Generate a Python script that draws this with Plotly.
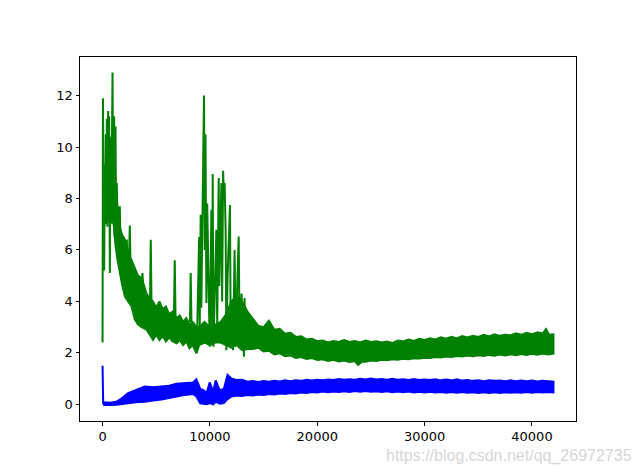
import plotly.graph_objects as go

# ---- green series: dense band, upper edge ----
green_top_x = [100, 400, 700, 1000, 1200, 1400, 1610, 1800, 2074, 2380, 2700, 3004, 3300, 3650,
               4092, 4400, 4700, 5000, 5300, 5600, 5900, 6200, 6500, 6900, 7200, 7500, 7800,
               8100, 8400, 8742, 9000, 9500, 10000, 10500, 11000, 11500, 12000, 12500,
               13000, 13500, 14000, 14500, 15000, 15500, 16000, 16500, 17000, 17500, 18000,
               18500, 19000, 19500, 20000, 20500, 21000, 21500, 22000, 22500, 23000, 23500,
               24000, 24500, 25000, 25500, 26000, 26500, 27000, 27500, 28000, 28500, 29000,
               29500, 30000, 30500, 31000, 31500, 32000, 32500, 33000, 33500, 34000, 34500,
               35000, 35500, 36000, 36500, 37000, 37500, 38000, 38500, 39000, 39500, 40000,
               40500, 41000, 41300, 41600, 42000]
green_top_y = [9.0, 9.5, 9.0, 9.5, 8.8, 7.6, 6.9, 6.6, 6.4, 5.9, 5.6, 5.3, 5.0, 4.9,
               4.3, 4.1, 4.0, 3.75, 4.0, 3.7, 3.8, 3.5, 3.6, 3.35, 3.45, 3.2, 3.35,
               3.1, 3.2, 3.0, 3.0, 3.2, 3.0, 3.1, 3.2, 3.5, 4.0, 4.2,
               4.0, 3.6, 3.3, 3.05, 3.0, 3.25, 2.9, 2.93, 2.74, 2.78,
               2.62, 2.64, 2.52, 2.55, 2.45, 2.48, 2.4, 2.46, 2.42, 2.5,
               2.42, 2.46, 2.4, 2.48, 2.42, 2.45, 2.4, 2.44, 2.38, 2.48,
               2.44, 2.52, 2.46, 2.55, 2.5, 2.57, 2.52, 2.6, 2.55, 2.62,
               2.56, 2.65, 2.6, 2.66, 2.62, 2.7, 2.64, 2.72, 2.66, 2.7,
               2.68, 2.76, 2.7, 2.78, 2.72, 2.8, 2.75, 2.92, 2.7, 2.72]

# ---- green series: dense band, lower edge ----
green_bot_x = [100, 400, 700, 1000, 1200, 1400, 1610, 1800, 2074, 2380, 2700, 3004, 3300, 3650,
               4092, 4400, 4706, 5000, 5300, 5600, 5900, 6200, 6500, 6900, 7200, 7500, 7800,
               8100, 8400, 8742, 9000, 9500, 10000, 10500, 11000, 11500, 12000, 12500,
               13000, 13500, 14000, 14500, 15000, 15500, 16000, 16500, 17000, 17500, 18000,
               18500, 19000, 19500, 20000, 20500, 21000, 21500, 22000, 22500, 23000, 23500,
               23800, 24200, 24500, 25000, 25500, 26000, 26500, 27000, 27500, 28000, 28500,
               29000, 29500, 30000, 30500, 31000, 31500, 32000, 32500, 33000, 33500, 34000,
               34500, 35000, 35500, 36000, 36500, 37000, 37500, 38000, 38500, 39000, 39500,
               40000, 40500, 41000, 41500, 42000]
green_bot_y = [7.2, 7.3, 7.0, 7.2, 6.2, 5.6, 5.1, 4.7, 4.2, 4.0, 3.8, 3.3, 3.1, 3.0,
               2.9, 2.7, 2.5, 2.7, 2.5, 2.65, 2.44, 2.6, 2.45, 2.37, 2.5, 2.3, 2.45,
               2.18, 2.3, 1.98, 2.3, 2.4, 2.3, 2.4, 2.4, 2.3, 2.2, 2.3,
               2.1, 2.15, 2.15, 2.2, 2.05, 2.08, 1.94, 1.98, 1.87, 1.9,
               1.8, 1.84, 1.76, 1.8, 1.72, 1.75, 1.68, 1.73, 1.66, 1.7,
               1.64, 1.68, 1.53, 1.66,
               1.65, 1.7, 1.68, 1.73, 1.71, 1.75, 1.73, 1.77, 1.75, 1.79,
               1.78, 1.81, 1.8, 1.84, 1.82, 1.86, 1.84, 1.88, 1.86, 1.9,
               1.87, 1.91, 1.88, 1.92, 1.89, 1.93, 1.9, 1.94, 1.91, 1.95,
               1.92, 1.96, 1.93, 1.97, 1.94, 1.97]

# ---- green series: sparse spikes (None separates segments) ----
green_spike_x = [0, 40, 150, 214, 260, 307, 350, 400, 450, 521, 570, 614, 680, 744, 820, 930, 1000,
                 1079, 1130, 1209, 1260, 1330, 1400, 1451, 1530, 1609, 1690, 1776, 1860, 1981, 2100,
                 2260, 2400, 2539, 2640, None,
                 3650, 3720, 3790, None, 4420, 4492, 4560, None, 6650, 6724, 6800, None,
                 8140, 8212, 8280, None,
                 8700, 8770, 9000, 9050, 9140, 9200, 9450, 9520, 9590, 9670, 9750, 9980, 10140,
                 10210, 10260, 10330, 10600, 10680, 10820, 10880, 11070, 11140, 11230, 11310, 11370,
                 11470, 11530, 11650, 11870, 11930, 12150, 12300, 12400, 12680, 12770, 12950, 13170,
                 13230, 13300]
green_spike_y = [2.4, 11.9, 5.2, 9.3, 7.0, 10.5, 7.3, 11.1, 6.9, 11.4, 7.4, 11.2, 5.1, 10.4, 7.2, 12.9, 7.0,
                 11.2, 6.5, 10.8, 6.8, 8.6, 6.2, 7.7, 5.8, 7.7, 5.5, 6.65, 5.0, 6.5, 4.8,
                 6.4, 4.5, 6.95, 4.8, None,
                 4.6, 5.1, 4.5, None, 4.0, 6.4, 4.0, None, 3.4, 5.6, 3.4, None,
                 3.2, 5.1, 3.2, None,
                 3.0, 2.0, 6.5, 3.0, 7.37, 3.75, 12.0, 6.0, 10.5, 3.94, 7.8, 2.24, 7.56,
                 2.5, 8.95, 2.24, 6.78, 3.0, 8.8, 4.6, 8.6, 4.0, 9.08, 8.0, 8.6,
                 6.66, 2.1, 5.0, 7.75, 3.0, 2.1, 6.0, 2.5, 6.52, 2.6, 4.3, 1.85,
                 4.13, 2.2]

# ---- blue series: band, upper edge ----
blue_top_x = [60, 700, 1300, 1700, 2380, 3100, 3930, 4700, 5490, 6200, 6880, 7600, 8430, 8740,
              9100, 9360, 9700, 9980, 10300, 10540, 10900, 11300, 11640,
              12000, 12500, 13000, 13500, 14000, 14500, 15000, 15500, 16000, 16500, 17000,
              17500, 18000, 18500, 19000, 19500, 20000, 20500, 21000, 21500, 22000, 22500,
              23000, 23500, 24000, 24500, 25000, 25500, 26000, 26500, 27000, 27500, 28000,
              28500, 29000, 29500, 30000, 30500, 31000, 31500, 32000, 32500, 33000, 33500,
              34000, 34500, 35000, 35500, 36000, 36500, 37000, 37500, 38000, 38500, 39000,
              39500, 40000, 40500, 41000, 41500, 42000]
blue_top_y = [0.08, 0.06, 0.1, 0.2, 0.43, 0.55, 0.69, 0.66, 0.69, 0.72, 0.8, 0.82, 0.85, 0.97,
              0.6, 0.56, 0.45, 0.85, 0.5, 0.93, 0.55, 0.6, 1.14,
              1.0, 0.94, 0.95, 0.88, 0.9, 0.87, 0.9, 0.88, 0.91, 0.89,
              0.93, 0.9, 0.93, 0.91, 0.95, 0.92, 0.95, 0.93, 0.96, 0.94,
              0.98, 0.95, 0.97, 0.95, 0.99, 0.96, 1.0, 0.96, 0.98, 0.95,
              0.99, 0.95, 0.97, 0.94, 0.98, 0.94, 0.96, 0.94, 0.97, 0.93,
              0.96, 0.93, 0.97, 0.92, 0.94, 0.91, 0.93, 0.9, 0.93, 0.91,
              0.92, 0.9, 0.93, 0.9, 0.92, 0.9, 0.92, 0.89, 0.91, 0.89, 0.88]

# ---- blue series: band, lower edge ----
blue_bot_x = blue_top_x
blue_bot_y = [-0.03, -0.03, -0.02, -0.01, 0.04, 0.08, 0.1, 0.15, 0.19, 0.25, 0.3, 0.36, 0.4, 0.3,
              0.04, 0.02, 0.0, 0.05, 0.0, 0.1, 0.02, 0.05, 0.2,
              0.3, 0.34, 0.32, 0.36, 0.34, 0.38, 0.36, 0.4, 0.38, 0.42,
              0.4, 0.44, 0.42, 0.46, 0.44, 0.48, 0.46, 0.5, 0.47, 0.5,
              0.48, 0.51, 0.48, 0.52, 0.49, 0.52, 0.49, 0.51, 0.48, 0.51,
              0.47, 0.5, 0.47, 0.5, 0.46, 0.49, 0.46, 0.49, 0.46, 0.48,
              0.45, 0.48, 0.45, 0.48, 0.45, 0.47, 0.44, 0.47, 0.44, 0.47,
              0.44, 0.47, 0.45, 0.47, 0.45, 0.48, 0.45, 0.48, 0.46, 0.48, 0.46]

# ---- blue series: initial spike ----
blue_spike_x = [0, 10, 60]
blue_spike_y = [1.5, 0.03, 0.0]

# ---- axis ticks ----
x_ticks = [0, 10000, 20000, 30000, 40000]
y_ticks = [0, 2, 4, 6, 8, 10, 12]

GREEN = "#008000"
BLUE = "#0000ff"
LW = 2

fig = go.Figure()
fig.add_trace(go.Scatter(
    x=green_top_x + green_bot_x[::-1], y=green_top_y + green_bot_y[::-1],
    mode="lines", fill="toself", fillcolor=GREEN, line=dict(color=GREEN, width=LW),
    hoverinfo="skip", showlegend=False))
fig.add_trace(go.Scatter(
    x=green_spike_x, y=green_spike_y, mode="lines", line=dict(color=GREEN, width=LW),
    connectgaps=False, showlegend=False))
fig.add_trace(go.Scatter(
    x=blue_top_x + blue_bot_x[::-1], y=blue_top_y + blue_bot_y[::-1],
    mode="lines", fill="toself", fillcolor=BLUE, line=dict(color=BLUE, width=LW),
    hoverinfo="skip", showlegend=False))
fig.add_trace(go.Scatter(
    x=blue_spike_x, y=blue_spike_y, mode="lines", line=dict(color=BLUE, width=LW),
    showlegend=False))

axis_common = dict(showline=True, linecolor="black", linewidth=1, mirror=True,
                   ticks="outside", ticklen=3.5, tickwidth=1, tickcolor="black",
                   showgrid=False, zeroline=False, automargin=False,
                   tickfont=dict(family="DejaVu Sans", size=13, color="black"))

fig.update_xaxes(range=[-2100, 44100], tickmode="array", tickvals=x_ticks,
                 ticktext=[str(v) for v in x_ticks], **axis_common)
fig.update_yaxes(range=[-0.65, 13.5], tickmode="array", tickvals=y_ticks,
                 ticktext=[str(v) for v in y_ticks], **axis_common)

fig.update_layout(
    width=640, height=473,
    margin=dict(l=72, r=72, t=49, b=60),
    plot_bgcolor="white", paper_bgcolor="white",
    showlegend=False,
    annotations=[dict(text="https://blog.csdn.net/qq_26972735", xref="paper", yref="paper",
                      x=1.117, y=-0.097, xanchor="right", yanchor="middle", showarrow=False,
                      font=dict(family="Liberation Sans", size=16, color="#d6d6d6"))],
)

fig.write_html("out.html")
